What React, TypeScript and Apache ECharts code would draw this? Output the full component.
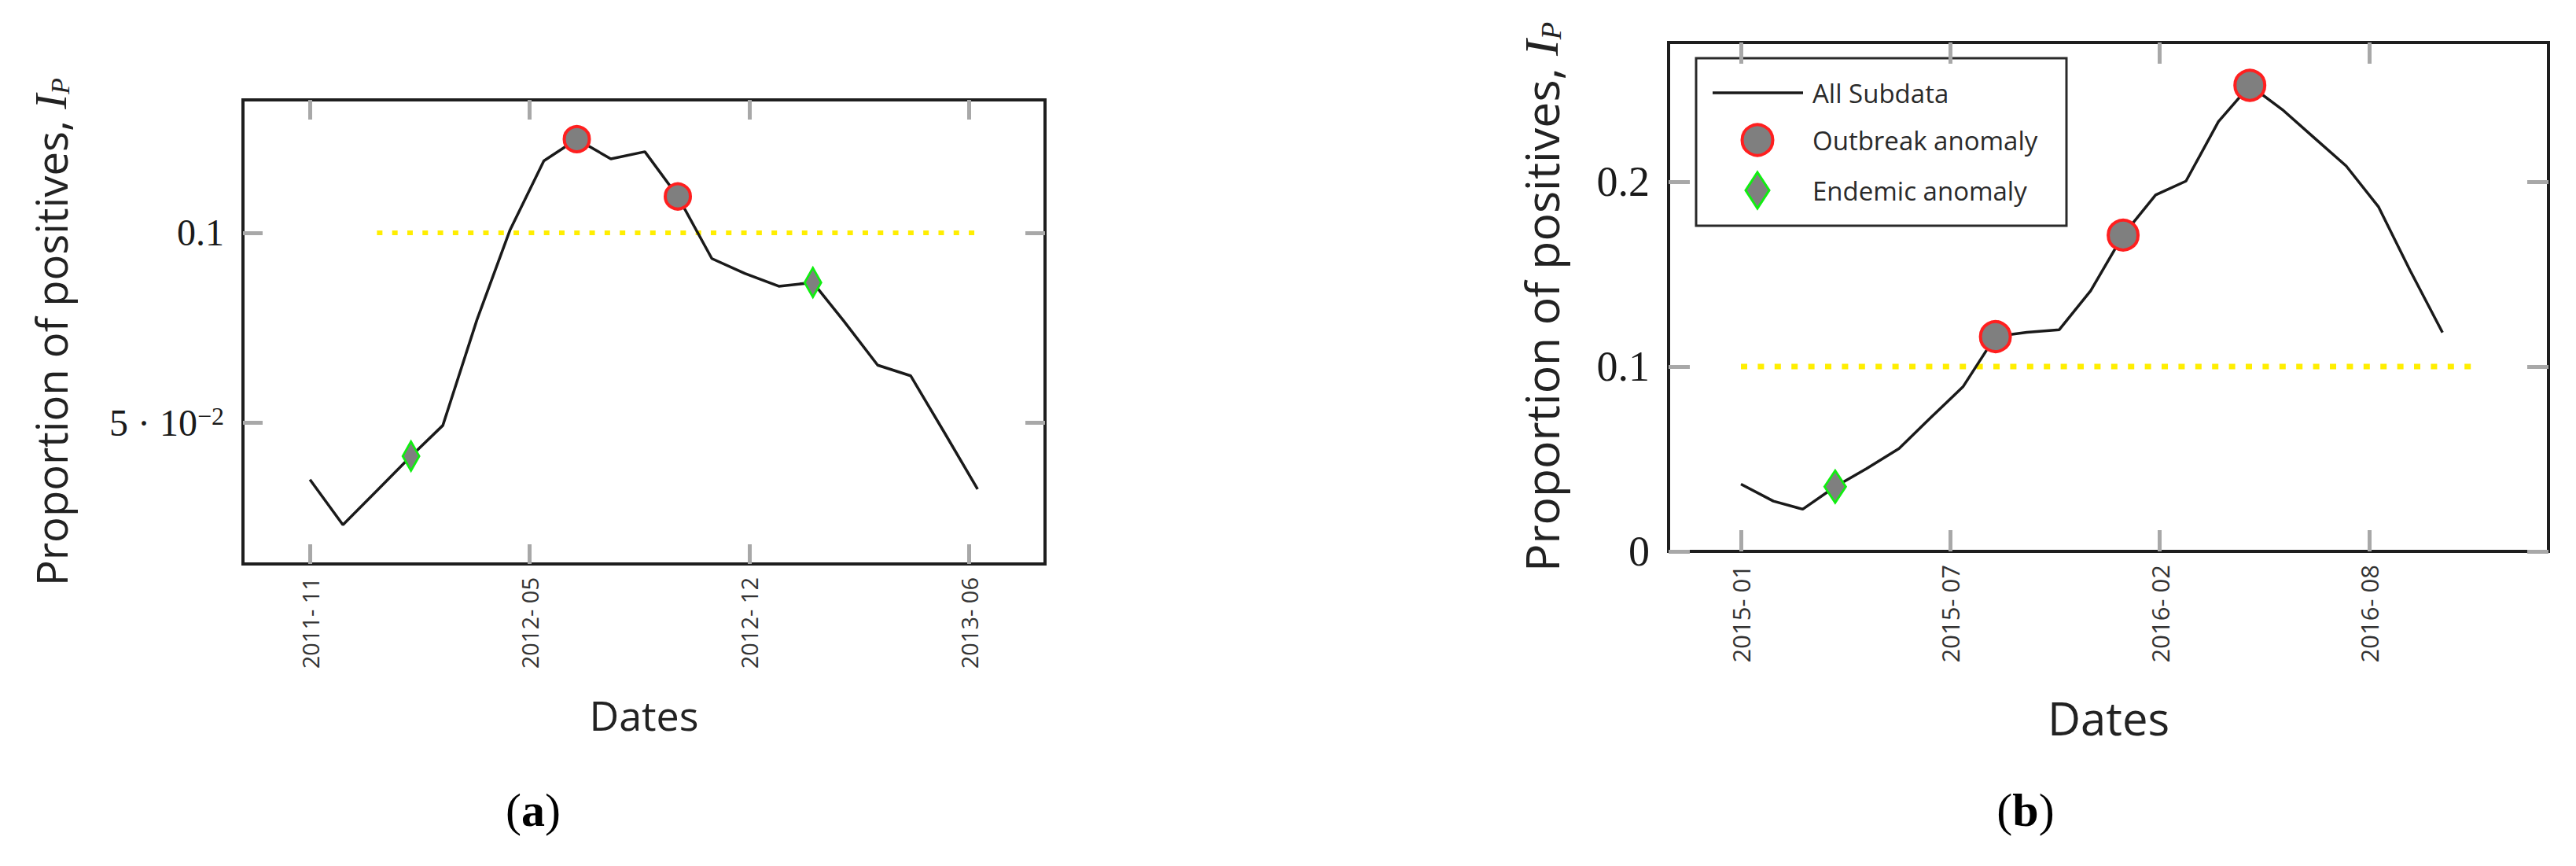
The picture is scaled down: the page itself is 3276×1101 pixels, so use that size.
import React, { useEffect, useRef } from "react";
import * as echarts from "echarts";

// ---------- Panel (a) data ----------
const originA = "2011-11-01";
const monthsA = [
  "2011-11", "2011-12", "2012-01", "2012-02", "2012-03", "2012-04", "2012-05",
  "2012-06", "2012-07", "2012-08", "2012-09", "2012-10", "2012-11", "2012-12",
  "2013-01", "2013-02", "2013-03", "2013-04", "2013-05", "2013-06", "2013-07",
];
const valuesA = [
  0.0349, 0.0230, 0.0320, 0.0411, 0.0492, 0.0770, 0.1006,
  0.1190, 0.1247, 0.1195, 0.1214, 0.1096, 0.0932, 0.0893,
  0.0859, 0.0869, 0.0768, 0.0651, 0.0623, 0.0472, 0.0324,
];
const outbreakA = ["2012-07", "2012-10"];
const endemicA = ["2012-02", "2013-02"];
const thresholdA = 0.1;
const thresholdSpanA = ["2012-01-01", "2013-07-01"];
const xTickDaysA = [0, 200, 400, 600];
const xTickLabelsA = ["2011- 11", "2012- 05", "2012- 12", "2013- 06"];
const yTickValuesA = [0.05, 0.1];
const yTickLabelsA = ["{m|5 · 10}{s|−2}", "{m|0.1}"];

// ---------- Panel (b) data ----------
const originB = "2015-01-01";
const monthsB = [
  "2015-01", "2015-02", "2015-03", "2015-04", "2015-05", "2015-06", "2015-07",
  "2015-08", "2015-09", "2015-10", "2015-11", "2015-12", "2016-01", "2016-02",
  "2016-03", "2016-04", "2016-05", "2016-06", "2016-07", "2016-08", "2016-09",
  "2016-10", "2016-11",
];
const valuesB = [
  0.0364, 0.0272, 0.0228, 0.0350, 0.0448, 0.0556, 0.0722,
  0.0890, 0.1162, 0.1185, 0.1199, 0.1410, 0.1711, 0.1928,
  0.2003, 0.2325, 0.2521, 0.2390, 0.2240, 0.2085, 0.1863,
  0.1520, 0.1184,
];
const outbreakB = ["2015-09", "2016-01", "2016-05"];
const endemicB = ["2015-04"];
const thresholdB = 0.1;
const thresholdSpanB = ["2015-01-01", "2016-12-01"];
const xTickDaysB = [0, 200, 400, 600];
const xTickLabelsB = ["2015- 01", "2015- 07", "2016- 02", "2016- 08"];
const yTickValuesB = [0, 0.1, 0.2];
const yTickLabelsB = ["{m|0}", "{m|0.1}", "{m|0.2}"];

const legendLabels = ["All Subdata", "Outbreak anomaly", "Endemic anomaly"];
const panelLabels = ["a", "b"];

// ---------- helpers ----------
function toDay(s: string, origin: string): number {
  const p = s.split("-").map(Number);
  const o = origin.split("-").map(Number);
  return (
    (Date.UTC(p[0], p[1] - 1, p[2] || 1) - Date.UTC(o[0], o[1] - 1, o[2] || 1)) /
    86400000
  );
}

function pickLabel(v: number, vals: number[], labels: string[]) {
  for (let i = 0; i < vals.length; i++) {
    if (Math.abs(v - vals[i]) < 1e-9) return labels[i];
  }
  return "";
}

const SANS = "'Open Sans', 'Noto Sans', sans-serif";
const SERIF = "'Liberation Serif', 'DejaVu Serif', serif";
const TICK_COLOR = "#a8a8a8";

type PanelCfg = {
  grid: { left: number; top: number; width: number; height: number };
  xMin: number; xMax: number; yMin: number; yMax: number;
  tickLen: number;
  xLabelSize: number; yLabelSize: number; supSize: number;
  nameSize: number; datesSize: number;
  yNameGap: number; datesGap: number;
  xMargin: number; yMargin: number;
  circle: number; diamond: [number, number];
  dotWidth: number; dash: [number, number];
};

const cfgA: PanelCfg = {
  grid: { left: 309, top: 127, width: 1020, height: 590 },
  xMin: -61, xMax: 669.4, yMin: 0.01266, yMax: 0.13506,
  tickLen: 25,
  xLabelSize: 29, yLabelSize: 48, supSize: 32,
  nameSize: 54.5, datesSize: 52,
  yNameGap: 216, datesGap: 165,
  xMargin: 17, yMargin: 24,
  circle: 32, diamond: [21, 37],
  dotWidth: 6, dash: [7, 12.3],
};

const cfgB: PanelCfg = {
  grid: { left: 2122, top: 54, width: 1119, height: 647 },
  xMin: -69.1, xMax: 771.2, yMin: 0, yMax: 0.2753,
  tickLen: 27,
  xLabelSize: 31, yLabelSize: 54, supSize: 34,
  nameSize: 59, datesSize: 58,
  yNameGap: 131, datesGap: 182,
  xMargin: 17, yMargin: 24,
  circle: 38, diamond: [27, 41],
  dotWidth: 7, dash: [8, 13.4],
};

function buildPanel(
  gi: number,
  cfg: PanelCfg,
  origin: string,
  months: string[],
  values: number[],
  outbreak: string[],
  endemic: string[],
  threshold: number,
  thrSpan: string[],
  xTicks: number[],
  xLabels: string[],
  yTicks: number[],
  yLabels: string[]
) {
  const grid = {
    ...cfg.grid,
    show: true,
    borderColor: "#1e1e1e",
    borderWidth: 4,
    backgroundColor: "transparent",
    containLabel: false,
  };
  const tickStyle = { color: TICK_COLOR, width: 5 };
  const xBase = {
    gridIndex: gi,
    type: "value",
    min: cfg.xMin,
    max: cfg.xMax,
    axisLine: { show: false, onZero: false },
    splitLine: { show: false },
    axisTick: {
      show: true, inside: true, length: cfg.tickLen,
      lineStyle: tickStyle, customValues: xTicks,
    },
  };
  const yBase = {
    gridIndex: gi,
    type: "value",
    min: cfg.yMin,
    max: cfg.yMax,
    axisLine: { show: false, onZero: false },
    splitLine: { show: false },
    axisTick: {
      show: true, inside: true, length: cfg.tickLen,
      lineStyle: tickStyle, customValues: yTicks,
    },
  };
  const xAxes = [
    {
      ...xBase,
      position: "bottom",
      axisLabel: {
        show: true,
        customValues: xTicks,
        rotate: 90,
        margin: cfg.xMargin,
        fontSize: cfg.xLabelSize,
        fontFamily: SANS,
        color: "#333",
        formatter: (v: number) => pickLabel(v, xTicks, xLabels),
      },
      name: "Dates",
      nameLocation: "middle",
      nameGap: cfg.datesGap,
      nameTextStyle: { fontSize: cfg.datesSize, fontFamily: SANS, color: "#222" },
    },
    { ...xBase, position: "top", axisLabel: { show: false } },
  ];
  const yAxes = [
    {
      ...yBase,
      position: "left",
      axisLabel: {
        show: true,
        customValues: yTicks,
        margin: cfg.yMargin,
        formatter: (v: number) => pickLabel(v, yTicks, yLabels),
        rich: {
          m: { fontSize: cfg.yLabelSize, fontFamily: SERIF, color: "#1a1a1a" },
          s: {
            fontSize: cfg.supSize, fontFamily: SERIF, color: "#1a1a1a",
            verticalAlign: "top",
          },
        },
      },
      name: "{t|Proportion of positives, }{i|I}{p|P}",
      nameLocation: "middle",
      nameRotate: 90,
      nameGap: cfg.yNameGap,
      nameTextStyle: {
        rich: {
          t: { fontSize: cfg.nameSize, fontFamily: SANS, color: "#222" },
          i: {
            fontSize: cfg.nameSize * 1.05, fontFamily: SERIF, fontStyle: "italic",
            color: "#222",
          },
          p: {
            fontSize: cfg.nameSize * 0.62, fontFamily: SERIF, fontStyle: "italic",
            color: "#222", verticalAlign: "bottom",
          },
        },
      },
    },
    { ...yBase, position: "right", axisLabel: { show: false } },
  ];

  const xi = gi * 2;
  const yi = gi * 2;
  const lineData = months.map((m, i) => [toDay(m + "-01", origin), values[i]]);
  const pointOf = (m: string) => [
    toDay(m + "-01", origin),
    values[months.indexOf(m)],
  ];
  const series = [
    {
      type: "line",
      xAxisIndex: xi,
      yAxisIndex: yi,
      data: thrSpan.map((d) => [toDay(d, origin), threshold]),
      symbol: "none",
      lineStyle: { color: "#ffee00", width: cfg.dotWidth, type: cfg.dash, cap: "butt" },
      z: 2,
      silent: true,
    },
    {
      type: "line",
      name: legendLabels[0],
      xAxisIndex: xi,
      yAxisIndex: yi,
      data: lineData,
      symbol: "none",
      lineStyle: { color: "#1a1a1a", width: 3.5 },
      z: 3,
    },
    {
      type: "scatter",
      name: legendLabels[1],
      xAxisIndex: xi,
      yAxisIndex: yi,
      data: outbreak.map(pointOf),
      symbol: "circle",
      symbolSize: cfg.circle,
      itemStyle: { color: "#7f7f7f", borderColor: "#ff1f1f", borderWidth: 4, opacity: 1 },
      z: 4,
    },
    {
      type: "scatter",
      name: legendLabels[2],
      xAxisIndex: xi,
      yAxisIndex: yi,
      data: endemic.map(pointOf),
      symbol: "diamond",
      symbolSize: cfg.diamond,
      itemStyle: { color: "#7f7f7f", borderColor: "#10ee10", borderWidth: 3, opacity: 1 },
      z: 4,
    },
  ];
  return { grid, xAxes, yAxes, series };
}

function buildOption() {
  const a = buildPanel(
    0, cfgA, originA, monthsA, valuesA, outbreakA, endemicA, thresholdA,
    thresholdSpanA, xTickDaysA, xTickLabelsA, yTickValuesA, yTickLabelsA
  );
  const b = buildPanel(
    1, cfgB, originB, monthsB, valuesB, outbreakB, endemicB, thresholdB,
    thresholdSpanB, xTickDaysB, xTickLabelsB, yTickValuesB, yTickLabelsB
  );

  // legend (panel b)
  const L = { x: 2157, y: 74, w: 471, h: 213 };
  const legendGraphic = {
    type: "group",
    z: 100,
    children: [
      {
        type: "rect",
        shape: { x: L.x, y: L.y, width: L.w, height: L.h },
        style: { fill: "#fff", stroke: "#2a2a2a", lineWidth: 3 },
      },
      {
        type: "line",
        shape: { x1: 2178, y1: 118, x2: 2293, y2: 118 },
        style: { stroke: "#1a1a1a", lineWidth: 3.5 },
      },
      {
        type: "circle",
        shape: { cx: 2235, cy: 178, r: 19.5 },
        style: { fill: "#7f7f7f", stroke: "#ff1f1f", lineWidth: 4 },
      },
      {
        type: "polygon",
        shape: {
          points: [
            [2235, 219],
            [2250, 242],
            [2235, 265],
            [2220, 242],
          ],
        },
        style: { fill: "#7f7f7f", stroke: "#10ee10", lineWidth: 3 },
      },
      ...legendLabels.map((t, i) => ({
        type: "text",
        x: 2305,
        y: [118, 178, 242][i],
        style: {
          text: t,
          fontSize: 33,
          fontFamily: SANS,
          fill: "#2a2a2a",
          verticalAlign: "middle",
          align: "left",
        },
      })),
    ],
  };

  const panelLabelGraphics = panelLabels.map((t, i) => ({
    type: "text",
    x: [678, 2576][i],
    y: 1030,
    z: 100,
    style: {
      text: `{p|(}{b|${t}}{p|)}`,
      align: "center",
      verticalAlign: "middle",
      rich: {
        p: { fontSize: 60, fontFamily: SERIF, fill: "#000" },
        b: { fontSize: 60, fontFamily: SERIF, fontWeight: "bold", fill: "#000" },
      },
    },
  }));

  return {
    animation: false,
    backgroundColor: "#ffffff",
    grid: [a.grid, b.grid],
    xAxis: [...a.xAxes, ...b.xAxes],
    yAxis: [...a.yAxes, ...b.yAxes],
    series: [...a.series, ...b.series],
    graphic: [legendGraphic, ...panelLabelGraphics],
  };
}

export default function App() {
  const ref = useRef<HTMLDivElement>(null);
  useEffect(() => {
    if (!ref.current) return;
    const chart = echarts.init(ref.current, undefined, { renderer: "svg" });
    chart.setOption(buildOption() as any);
    return () => chart.dispose();
  }, []);
  return (
    <div
      ref={ref}
      style={{ position: "absolute", left: 0, top: 0, width: 3276, height: 1101 }}
    />
  );
}
